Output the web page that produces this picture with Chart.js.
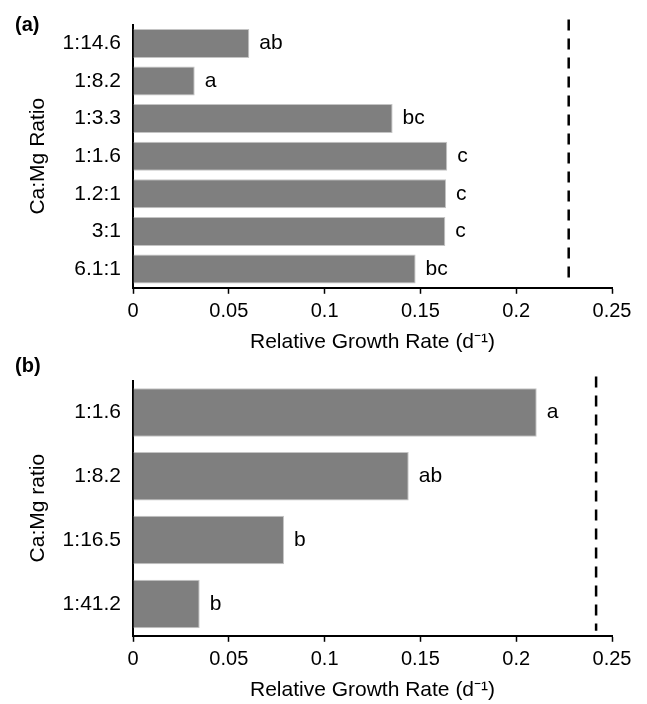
<!DOCTYPE html>
<html>
<head>
<meta charset="utf-8">
<script src="https://cdn.jsdelivr.net/npm/chart.js@4.4.1/dist/chart.umd.min.js"></script>
<style>
  body { margin: 0; background: #fff; }
  #wrap { position: relative; width: 647px; height: 704px; }
  .panel { position: absolute; left: 0; }
  #panel-a { top: 0; }
  #panel-b { top: 356px; }
  .tag { position: absolute; font: bold 20px "Liberation Sans", Arial, sans-serif; line-height: 1; color: #000; }
</style>
</head>
<body>
<div id="wrap">
  <div class="panel" id="panel-a"><canvas id="chart-a" width="647" height="356"></canvas></div>
  <div class="panel" id="panel-b"><canvas id="chart-b" width="647" height="348"></canvas></div>
  <div class="tag" style="left:15px; top:14px;">(a)</div>
  <div class="tag" style="left:15px; top:355px;">(b)</div>
</div>
<script>
// panel (a)
const ratiosA = ["1:14.6", "1:8.2", "1:3.3", "1:1.6", "1.2:1", "3:1", "6.1:1"];
const growthA = [0.0607, 0.0322, 0.1355, 0.164, 0.1634, 0.163, 0.1475];
const lettersA = ["ab", "a", "bc", "c", "c", "c", "bc"];
const controlA = 0.2274;

// panel (b)
const ratiosB = ["1:1.6", "1:8.2", "1:16.5", "1:41.2"];
const growthB = [0.2107, 0.1439, 0.0788, 0.0348];
const lettersB = ["a", "ab", "b", "b"];
const controlB = 0.2417;

const xTickLabels = ["0", "0.05", "0.1", "0.15", "0.2", "0.25"];

const FONT = '"Liberation Sans", Arial, sans-serif';

const letterPlugin = {
  id: "letters",
  afterDatasetsDraw(chart, args, opts) {
    const ctx = chart.ctx;
    const meta = chart.getDatasetMeta(0);
    ctx.save();
    ctx.font = `21px ${FONT}`;
    ctx.fillStyle = "#000";
    ctx.textAlign = "left";
    ctx.textBaseline = "middle";
    meta.data.forEach((bar, i) => {
      ctx.fillText(opts.letters[i], bar.x + 10, bar.y);
    });
    ctx.restore();
  },
};

const controlLine = {
  id: "control",
  afterDatasetsDraw(chart, args, opts) {
    const { ctx, chartArea } = chart;
    const x = chart.scales.x.getPixelForValue(opts.value);
    ctx.save();
    ctx.strokeStyle = "#000";
    ctx.lineWidth = 2.5;
    ctx.setLineDash([11, 8]);
    ctx.beginPath();
    ctx.moveTo(x, chartArea.top - opts.above);
    ctx.lineTo(x, chartArea.bottom - opts.below);
    ctx.stroke();
    ctx.restore();
  },
};

function makeChart(canvasId, labels, values, letters, control, yTitle, padTop, barPct, above, below) {
  return new Chart(document.getElementById(canvasId).getContext("2d"), {
    type: "bar",
    data: {
      labels: labels,
      datasets: [
        {
          data: values,
          backgroundColor: "#7f7f7f",
          borderColor: "#c4c4c4",
          borderWidth: 1,
          borderSkipped: "left",
          categoryPercentage: 1,
          barPercentage: barPct,
        },
      ],
    },
    options: {
      responsive: false,
      animation: false,
      indexAxis: "y",
      layout: { padding: { top: padTop, right: 35, bottom: 0, left: 0 } },
      plugins: {
        legend: { display: false },
        tooltip: { enabled: false },
        letters: { letters: letters },
        control: { value: control, above: above, below: below },
      },
      scales: {
        x: {
          min: 0,
          max: 0.25,
          ticks: {
            stepSize: 0.05,
            padding: 6,
            color: "#000",
            font: { family: FONT, size: 20 },
            callback: (v, i) => xTickLabels[i],
          },
          grid: {
            display: true,
            drawOnChartArea: false,
            drawTicks: true,
            tickLength: 6,
            tickColor: "#000",
            tickWidth: 1.5,
          },
          border: { display: true, color: "#000", width: 2 },
          title: {
            display: true,
            text: "Relative Growth Rate (d⁻¹)",
            color: "#000",
            font: { family: FONT, size: 21 },
            padding: { top: 0, bottom: 1 },
          },
        },
        y: {
          afterFit: (scale) => { scale.width = 133; },
          ticks: {
            padding: 12,
            color: "#000",
            font: { family: FONT, size: 21 },
          },
          grid: { display: false, drawTicks: false },
          border: { display: true, color: "#000", width: 2 },
          title: {
            display: true,
            text: yTitle,
            color: "#000",
            font: { family: FONT, size: 21 },
            padding: { top: 26, bottom: 0 },
          },
        },
      },
    },
    plugins: [letterPlugin, controlLine],
  });
}

makeChart("chart-a", ratiosA, growthA, lettersA, controlA, "Ca:Mg Ratio", 18, 0.77, 5, 8);
makeChart("chart-b", ratiosB, growthB, lettersB, controlB, "Ca:Mg ratio", 7, 0.76, 4, 5);
</script>
</body>
</html>
